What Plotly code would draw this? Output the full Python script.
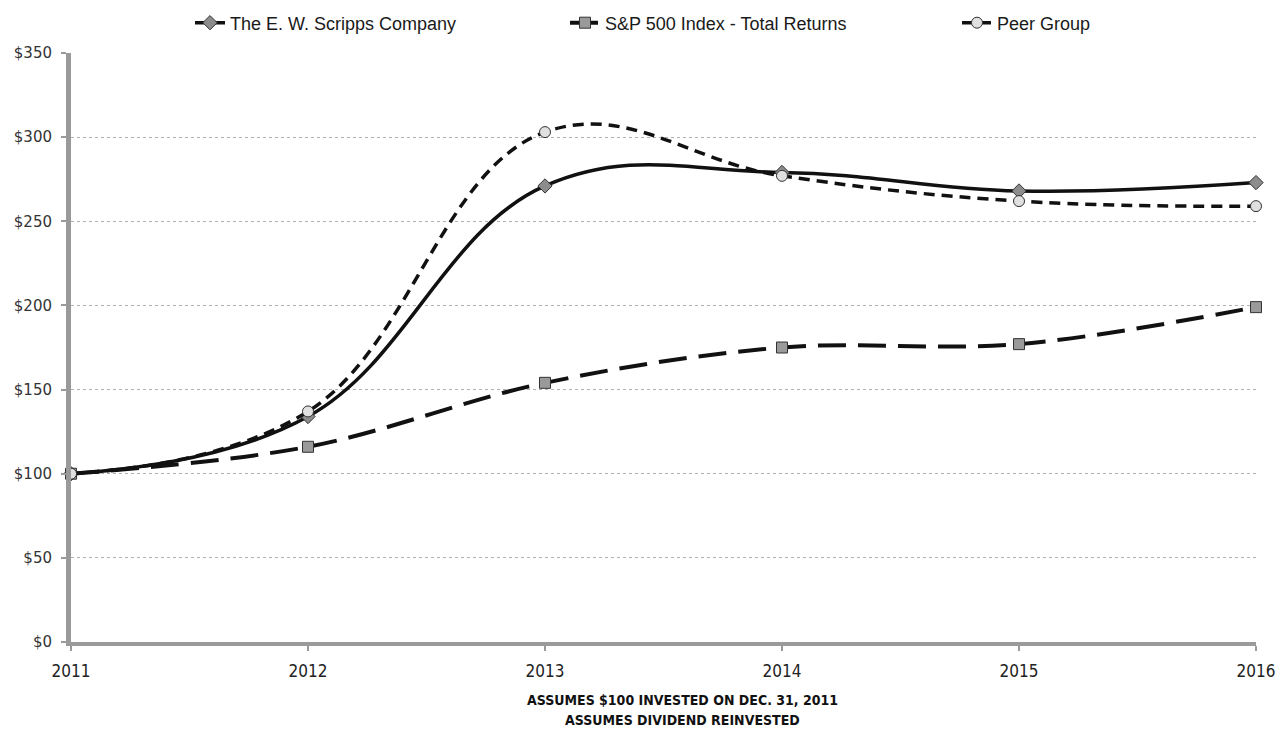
import plotly.graph_objects as go

years = [2011, 2012, 2013, 2014, 2015, 2016]
scripps = [100, 134, 271, 279, 268, 273]
sp500 = [100, 116, 154, 175, 177, 199]
peer = [100, 137, 303, 277, 262, 259]
y_ticks = [0, 50, 100, 150, 200, 250, 300, 350]
y_labels = ["$" + str(v) for v in y_ticks]

COND = "DejaVu Sans Condensed, Liberation Sans Narrow, Liberation Sans"

fig = go.Figure()
fig.add_trace(go.Scatter(
    x=years, y=scripps, name="The E. W. Scripps Company", mode="lines+markers",
    line=dict(color="#111111", width=3.5, shape="spline", smoothing=1.15),
    marker=dict(symbol="diamond", size=11, color="#8c8c8c", line=dict(color="#333333", width=1)),
    cliponaxis=False, legend="legend2"))
fig.add_trace(go.Scatter(
    x=years, y=sp500, name="S&P 500 Index - Total Returns", mode="lines+markers",
    line=dict(color="#111111", width=4, shape="spline", smoothing=1.0, dash="28px,12px"),
    marker=dict(symbol="square", size=11, color="#9a9a9a", line=dict(color="#333333", width=1)),
    cliponaxis=False, legend="legend3"))
fig.add_trace(go.Scatter(
    x=years, y=peer, name="Peer Group", mode="lines+markers",
    line=dict(color="#111111", width=3.5, shape="spline", smoothing=1.15, dash="11px,7px"),
    marker=dict(symbol="circle", size=11, color="#e0e0e0", line=dict(color="#333333", width=1)),
    cliponaxis=False, legend="legend4"))

leg_common = dict(orientation="h", xref="container", yref="container", y=1 - 23 / 729,
                  yanchor="middle", xanchor="left", bgcolor="rgba(0,0,0,0)",
                  font=dict(size=18, family="Liberation Sans", color="#1a1a1a"))

fig.update_layout(
    width=1282, height=729,
    margin=dict(l=71, r=26, t=53, b=87, autoexpand=False),
    paper_bgcolor="white", plot_bgcolor="white",
    font=dict(family="Liberation Sans", color="#111111"),
    showlegend=True,
    legend2=dict(x=190 / 1282, **leg_common),
    legend3=dict(x=565 / 1282, **leg_common),
    legend4=dict(x=957 / 1282, **leg_common),
    xaxis=dict(range=[2011, 2016], tickvals=years, ticktext=[str(y) for y in years],
               showgrid=False, showline=True, linecolor="#9a9a9a", linewidth=4,
               ticks="outside", ticklen=5, tickcolor="#9a9a9a", tickwidth=2,
               ticklabelstandoff=6,
               tickfont=dict(size=17, family=COND, color="#222222"),
               zeroline=False),
    yaxis=dict(range=[0, 350], tickvals=y_ticks, ticktext=y_labels,
               showgrid=True, gridcolor="#b0b0b0", griddash="dot", gridwidth=1,
               showline=True, linecolor="#9a9a9a", linewidth=5,
               ticks="outside", ticklen=5, tickcolor="#9a9a9a", tickwidth=2,
               ticklabelstandoff=6,
               tickfont=dict(size=15, family="DejaVu Sans", color="#333333"),
               zeroline=False),
)
fig.add_annotation(text="<b>ASSUMES $100 INVESTED ON DEC. 31, 2011</b>", xref="paper", yref="paper",
                   x=0.516, y=-(700 - 642) / 589, yanchor="middle", showarrow=False,
                   font=dict(size=14, family=COND))
fig.add_annotation(text="<b>ASSUMES DIVIDEND REINVESTED</b>", xref="paper", yref="paper",
                   x=0.516, y=-(720 - 642) / 589, yanchor="middle", showarrow=False,
                   font=dict(size=14, family=COND))

fig.write_html("out.html")
